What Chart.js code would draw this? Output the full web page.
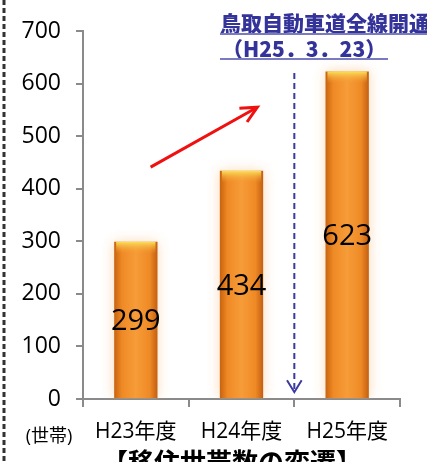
<!DOCTYPE html>
<html>
<head>
<meta charset="utf-8">
<script src="https://cdn.jsdelivr.net/npm/chart.js@4"></script>
<style>
  html, body { margin: 0; padding: 0; background: #fff; }
  #wrap { width: 427px; height: 462px; position: relative; }
</style>
</head>
<body>
<div id="wrap"><canvas id="chart" width="427" height="462"></canvas></div>
<script>
// data
const years = ['H23年度', 'H24年度', 'H25年度'];
const households = [299, 434, 623];
const yTicks = [0, 100, 200, 300, 400, 500, 600, 700];
const unitLabel = '(世帯)';
const chartTitle = '【移住世帯数の変遷】';
const noteLines = ['鳥取自動車道全線開通', '（H25．3．23）'];

const FONT = '"Open Sans", "Noto Sans CJK JP", sans-serif';
const BAR_PCT = 0.41;

// horizontal gradient for each bar, so edges look darker
function barFill(context) {
    const chart = context.chart;
    if (!chart.chartArea) return '#f08a24';
    const xs = chart.scales.x;
    const cx = xs.getPixelForValue(context.dataIndex);
    const w = xs.width / years.length * BAR_PCT;
    const g = chart.ctx.createLinearGradient(cx - w / 2, 0, cx + w / 2, 0);
    g.addColorStop(0, '#c9620e');
    g.addColorStop(0.18, '#ef8a26');
    g.addColorStop(0.5, '#f69c38');
    g.addColorStop(0.82, '#ef8a26');
    g.addColorStop(1, '#c35e10');
    return g;
}

// soft glow + top highlight + value labels
const barDecor = {
    id: 'barDecor',
    beforeDatasetsDraw(chart) {
        const ctx = chart.ctx;
        ctx.save();
        ctx.shadowColor = 'rgba(245, 170, 90, 0.45)';
        ctx.shadowBlur = 12;
    },
    afterDatasetsDraw(chart) {
        const ctx = chart.ctx;
        ctx.restore();
        const meta = chart.getDatasetMeta(0);
        meta.data.forEach((bar, i) => {
            const left = bar.x - bar.width / 2;
            const g = ctx.createLinearGradient(0, bar.y, 0, bar.y + 12);
            g.addColorStop(0, 'rgba(250, 225, 90, 1)');
            g.addColorStop(1, 'rgba(246, 154, 52, 0)');
            ctx.fillStyle = g;
            ctx.fillRect(left + 2, bar.y, bar.width - 4, 12);

            ctx.fillStyle = '#000';
            ctx.font = '29px ' + FONT;
            ctx.textAlign = 'center';
            ctx.textBaseline = 'middle';
            ctx.fillText(String(households[i]), bar.x, (bar.y + bar.base) / 2 + 2);
        });
    }
};

function arrow(ctx, x1, y1, x2, y2, head, spread) {
    const a = Math.atan2(y2 - y1, x2 - x1);
    ctx.beginPath();
    ctx.moveTo(x1, y1);
    ctx.lineTo(x2, y2);
    ctx.stroke();
    ctx.setLineDash([]);
    ctx.beginPath();
    ctx.moveTo(x2 - head * Math.cos(a - spread), y2 - head * Math.sin(a - spread));
    ctx.lineTo(x2, y2);
    ctx.lineTo(x2 - head * Math.cos(a + spread), y2 - head * Math.sin(a + spread));
    ctx.stroke();
}

const extras = {
    id: 'extras',
    beforeDraw(chart) {
        const ctx = chart.ctx;
        // dashed border on the left edge
        ctx.save();
        ctx.strokeStyle = '#333';
        ctx.lineWidth = 3;
        ctx.setLineDash([5, 3]);
        ctx.beginPath();
        ctx.moveTo(4, 0);
        ctx.lineTo(4, chart.height);
        ctx.stroke();
        ctx.restore();
    },
    afterDraw(chart) {
        const ctx = chart.ctx;
        const xs = chart.scales.x, ys = chart.scales.y;
        ctx.save();

        // growth arrow
        ctx.strokeStyle = '#f01010';
        ctx.lineWidth = 3;
        arrow(ctx, xs.getPixelForValue(0.14), ys.getPixelForValue(441),
              xs.getPixelForValue(1.15), ys.getPixelForValue(555), 18, 0.45);

        // opening marker, between H24 and H25
        ctx.strokeStyle = '#3a3aa0';
        ctx.lineWidth = 2;
        ctx.setLineDash([6, 4]);
        const mx = xs.getPixelForValue(1.5);
        arrow(ctx, mx, ys.getPixelForValue(620), mx, ys.getPixelForValue(13), 14, 0.55);

        // note text
        ctx.fillStyle = '#33339a';
        ctx.font = '900 21px "Noto Sans CJK JP", sans-serif';
        ctx.textAlign = 'left';
        ctx.textBaseline = 'alphabetic';
        ctx.fillText(noteLines[0], 220, 31);
        ctx.font = '900 21px "Noto Sans CJK JP", sans-serif';
        ctx.fillText(noteLines[1], 222, 57);
        ctx.strokeStyle = '#7a7ac0';
        ctx.lineWidth = 2;
        ctx.beginPath();
        ctx.moveTo(220, 34); ctx.lineTo(427, 34);
        ctx.moveTo(220, 59); ctx.lineTo(388, 59);
        ctx.stroke();

        // unit and caption
        ctx.fillStyle = '#000';
        ctx.font = '18px ' + FONT;
        ctx.textAlign = 'center';
        ctx.textBaseline = 'middle';
        ctx.fillText(unitLabel, 49, 437);
        ctx.font = 'bold 26px "Noto Sans CJK JP", sans-serif';
        ctx.textBaseline = 'top';
        ctx.fillText(chartTitle, 232, 449);
        ctx.restore();
    }
};

new Chart(document.getElementById('chart'), {
    type: 'bar',
    data: {
        labels: years,
        datasets: [{
            data: households,
            backgroundColor: barFill,
            borderWidth: 0,
            categoryPercentage: 1,
            barPercentage: BAR_PCT
        }]
    },
    options: {
        responsive: false,
        animation: false,
        layout: { padding: { top: 31, right: 27, left: 0, bottom: 0 } },
        plugins: { legend: { display: false }, tooltip: { enabled: false } },
        scales: {
            y: {
                min: 0,
                max: 700,
                afterBuildTicks: s => { s.ticks = yTicks.map(v => ({ value: v })); },
                afterFit: s => { s.width = 83; },
                border: { color: '#8a8a8a', width: 2 },
                grid: { drawOnChartArea: false, color: '#8a8a8a', lineWidth: 2, tickLength: 7 },
                ticks: { color: '#000', padding: 15, font: { size: 23, family: FONT } }
            },
            x: {
                afterFit: s => { s.height = 63; },
                border: { color: '#8a8a8a', width: 2 },
                grid: { drawOnChartArea: false, color: '#8a8a8a', lineWidth: 2, tickLength: 8, offset: true },
                ticks: { color: '#000', padding: 12, font: { size: 21, family: FONT } }
            }
        }
    },
    plugins: [barDecor, extras]
});
</script>
</body>
</html>
